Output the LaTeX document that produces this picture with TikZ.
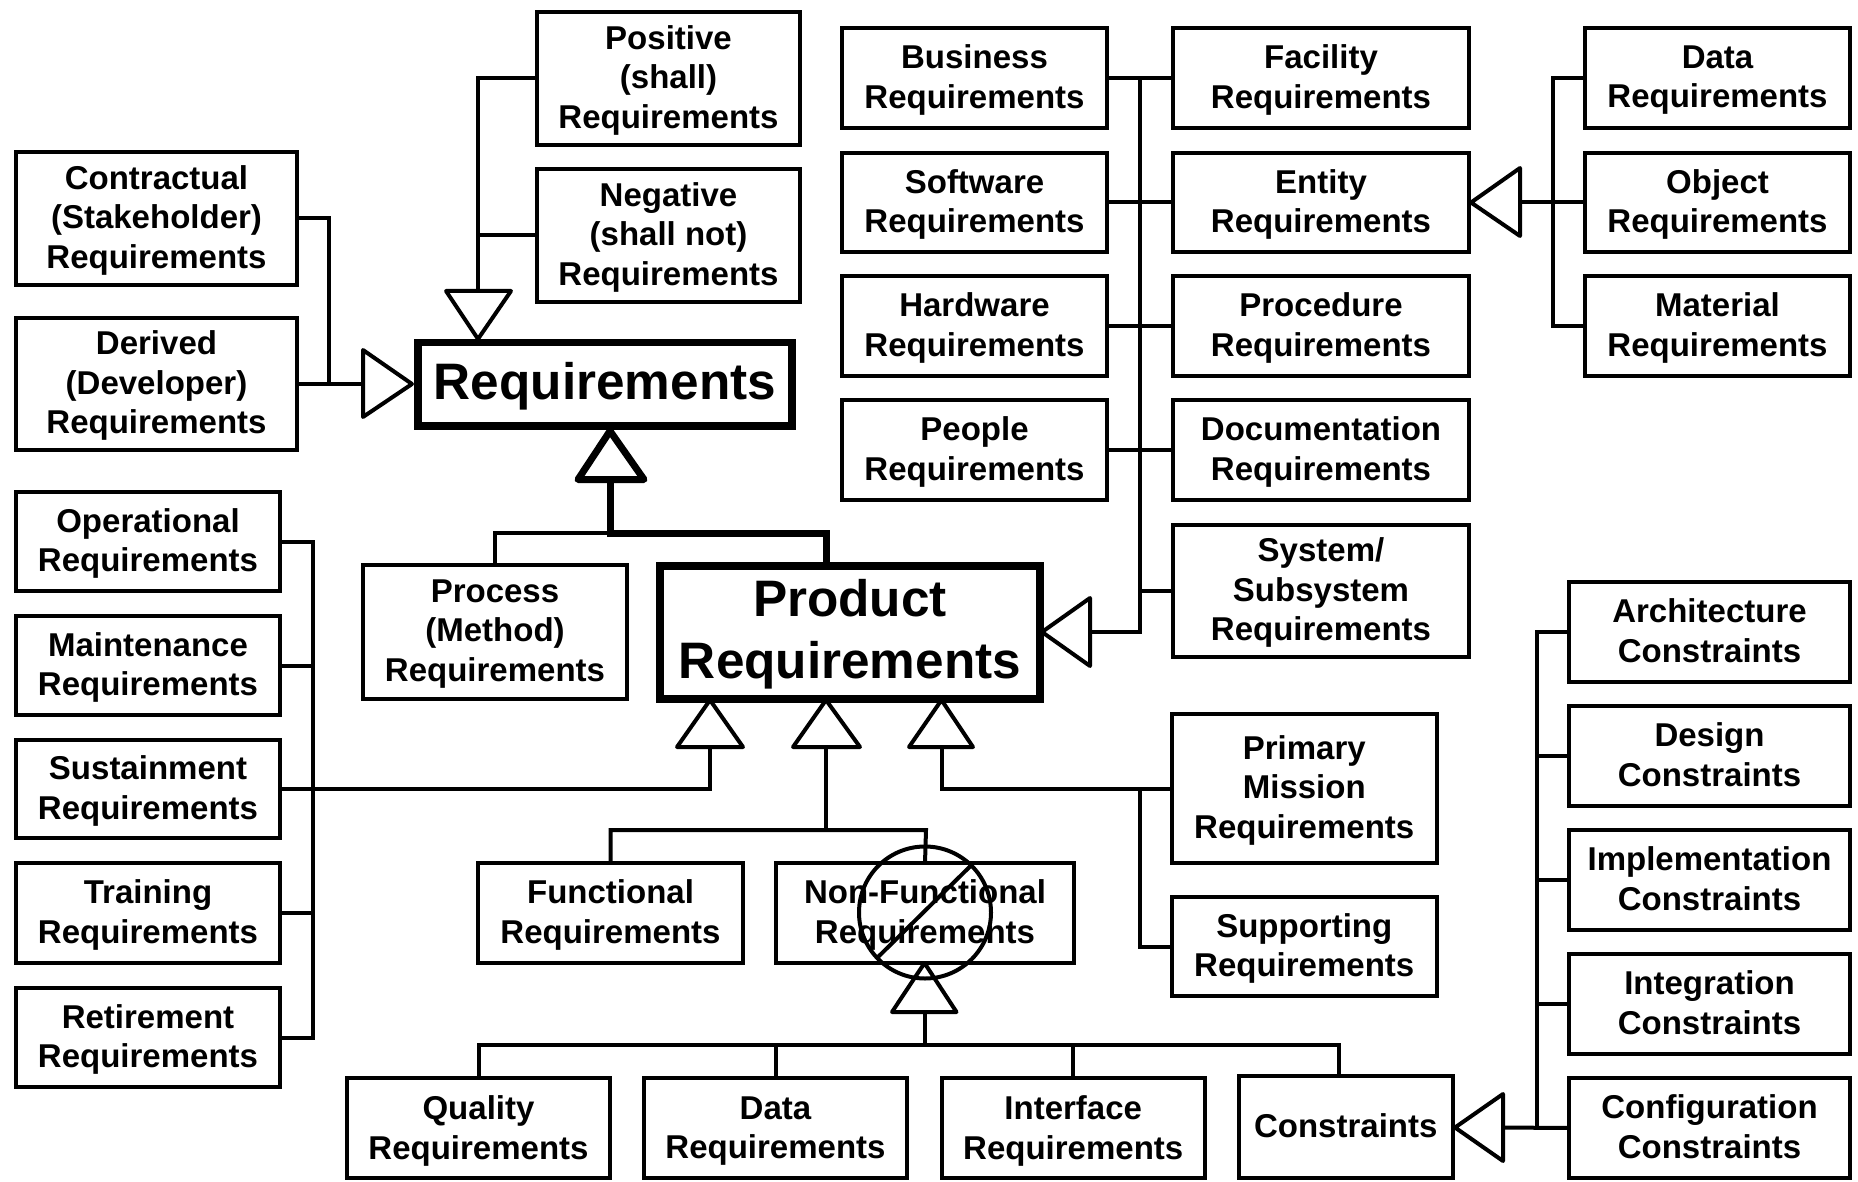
\documentclass[tikz,border=0pt]{standalone}
\usepackage{fontspec}
\setmainfont{Liberation Sans}
\usetikzlibrary{calc}
\newcommand{\tdy}{1.8}
\newcommand{\bx}[7][box]{%
  \pgfmathsetmacro{\bw}{#5-#3}\pgfmathsetmacro{\bh}{#6-#4}%
  \pgfmathsetmacro{\bcx}{(#3+#5)/2}\pgfmathsetmacro{\bcy}{(#4+#6)/2}%
  \node[#1,minimum width=\bw pt,minimum height=\bh pt] (#2) at (\bcx,\bcy) {};
  \node[#1,draw=none,fill=none] (#2-text) at (\bcx,\bcy+\tdy) {#7};}
\newcommand{\tri}[8][tri]{% name apex base1 base2
  \coordinate (#2-apex) at (#3,#4);
  \coordinate (#2-base) at ($(#5,#6)!0.5!(#7,#8)$);
  \draw[#1] (#3,#4) -- (#5,#6) -- (#7,#8) -- cycle;}
\tikzset{
  x=1pt,y=-1pt,
  box/.style={draw=black,line width=4pt,fill=white,rectangle,inner sep=0pt,outer sep=0pt,align=center,
    font=\fontsize{33}{39.4}\selectfont\bfseries,line join=miter},
  bigbox/.style={box,line width=7.5pt,font=\fontsize{51.3}{62}\selectfont\bfseries},
  tri/.style={draw=black,line width=4pt,fill=white,line join=round},
  thicktri/.style={tri,line width=7pt},
  conn/.style={draw=black,line width=4pt,line join=miter},
  thickconn/.style={conn,line width=7pt},
  slash/.style={draw=black,line width=4pt},
}
\begin{document}
\begin{tikzpicture}
\useasboundingbox (0,0) rectangle (1858,1182);
\fill[white] (0,0) rectangle (1858,1182);
% top-left
\bx{pos}{537}{12}{800}{145}{Positive\\(shall)\\Requirements}
\bx{neg}{537}{169}{800}{302}{Negative\\(shall not)\\Requirements}
\bx{con}{16}{152}{297}{285}{Contractual\\(Stakeholder)\\Requirements}
\bx{der}{16}{318}{297}{450}{Derived\\(Developer)\\Requirements}
\bx[bigbox]{req}{418}{342.5}{792}{426}{Requirements}
\bx{proc}{363}{565}{627}{699}{Process\\(Method)\\Requirements}
\bx[bigbox]{prod}{660}{566}{1040}{699}{Product\\Requirements}
% left column
\bx{oper}{16}{492}{280}{591}{Operational\\Requirements}
\bx{main}{16}{616}{280}{715}{Maintenance\\Requirements}
\bx{sust}{16}{740}{280}{838}{Sustainment\\Requirements}
\bx{trai}{16}{863}{280}{963}{Training\\Requirements}
\bx{reti}{16}{988}{280}{1087}{Retirement\\Requirements}
% top middle
\bx{busi}{842}{28}{1107}{128}{Business\\Requirements}
\bx{soft}{842}{153}{1107}{252}{Software\\Requirements}
\bx{hard}{842}{276}{1107}{376}{Hardware\\Requirements}
\bx{peop}{842}{400}{1107}{500}{People\\Requirements}
\bx{faci}{1173}{28}{1469}{128}{Facility\\Requirements}
\bx{enti}{1173}{153}{1469}{252}{Entity\\Requirements}
\bx{pced}{1173}{276}{1469}{376}{Procedure\\Requirements}
\bx{docu}{1173}{400}{1469}{500}{Documentation\\Requirements}
\bx{syst}{1173}{525}{1469}{657}{System/\\Subsystem\\Requirements}
\bx{data}{1585}{28}{1850}{128}{Data\\Requirements}
\bx{obje}{1585}{153}{1850}{252}{Object\\Requirements}
\bx{mate}{1585}{276}{1850}{376}{Material\\Requirements}
% mid
\bx{prim}{1172}{714}{1436.5}{863}{Primary\\Mission\\Requirements}
\bx{supp}{1172}{897}{1436.5}{996}{Supporting\\Requirements}
\bx{func}{478}{863}{743}{963}{Functional\\Requirements}
\bx{nonf}{776}{863}{1074}{963}{Non-Functional\\Requirements}
% bottom
\renewcommand{\tdy}{3}
\bx{qual}{347}{1078}{610}{1178}{Quality\\Requirements}
\bx{dat2}{644}{1078}{907}{1178}{Data\\Requirements}
\bx{intf}{941.5}{1078}{1205}{1178}{Interface\\Requirements}
\renewcommand{\tdy}{-1.2}
\bx{cons}{1238.5}{1076}{1453}{1178}{Constraints}
% right column
\bx{arch}{1569}{582}{1850}{682}{Architecture\\Constraints}
\bx{desi}{1569}{706}{1850}{806}{Design\\Constraints}
\bx{impl}{1569}{830}{1850}{930}{Implementation\\Constraints}
\bx{inte}{1569}{954}{1850}{1054}{Integration\\Constraints}
\bx{conf}{1569}{1078}{1850}{1178}{Configuration\\Constraints}
% junctions
\coordinate (jpn) at (478,78.5);
\coordinate (jcd) at (329,218.5);
\coordinate (jleft) at (313,541.5);
\coordinate (jmid) at (1139.5,78);
\coordinate (jobj) at (1553,78);
\coordinate (jarch) at (1537,632);
\coordinate (jprim) at (1139.5,788.5);
\coordinate (jfn) at (926,830);
\coordinate (jqual) at (925,1045);
\coordinate (jcons) at (1339,1078);
\coordinate (jreq) at (610,533);
% connectors
\draw[conn] (pos.west) -- (jpn) -- (478,300);
\draw[conn] (neg.west) -- (neg.west -| jpn);
\draw[conn] (con.east) -| (der.east -| jcd);
\draw[conn] (der.east) -- (370,384);
\draw[conn] (oper.east) -| (reti.east -| jleft) -- (reti.east);
\draw[conn] (main.east) -- (main.east -| jleft);
\draw[conn] (trai.east) -- (trai.east -| jleft);
\draw[conn] (sust.east) -| (710,745);
\draw[conn] (busi.east) -- (faci.west);
\draw[conn] (soft.east) -- (enti.west);
\draw[conn] (hard.east) -- (pced.west);
\draw[conn] (peop.east) -- (docu.west);
\draw[conn] (jmid) -- (1139.5,632) -- (1088,632);
\draw[conn] (syst.west) -- (syst.west -| jmid);
\draw[conn] (data.west) -| (mate.west -| jobj) -- (mate.west);
\draw[conn] (obje.west) -- (1518,202.5);
\draw[conn] (arch.west) -| (conf.west -| jarch);
\draw[conn] (desi.west) -- (desi.west -| jarch);
\draw[conn] (impl.west) -- (impl.west -| jarch);
\draw[conn] (inte.west) -- (inte.west -| jarch);
\draw[conn] (conf.west) -- (1501,1127.5);
\draw[conn] (prim.west) -- (941.5,788.5) -- (941.5,746);
\draw[conn] (jprim) |- (supp.west);
\draw[conn] (826,745) -- (826,830);
\draw[conn] (func.north) |- (jfn) -- (nonf.north);
\draw[conn] (qual.north) |- (jqual) -| (jcons);
\draw[conn] (925,1010) -- (jqual);
\draw[conn] (dat2.north) -- (dat2.north |- jqual);
\draw[conn] (intf.north) -- (intf.north |- jqual);
\draw[conn] (proc.north) |- (jreq);
\draw[thickconn] (610,478) -- (jreq) -| (826,564);
% triangles
\tri{tpn}{478}{339}{446}{291}{511}{291}
\tri{tcd}{412}{384}{363}{350}{363}{417}
\tri[thicktri]{treq}{610}{431}{578}{479.5}{644}{479.5}
\tri{ts}{710}{700}{677}{747}{743}{747}
\tri{tf}{826}{700}{793}{747}{860}{747}
\tri{tp}{941.5}{700}{909}{747}{973}{747}
\tri{tprod}{1042}{632}{1090}{598}{1090}{666}
\tri{tent}{1471}{202.5}{1520}{168}{1520}{236}
\tri{tcons}{1455}{1127.5}{1503}{1094}{1503}{1161}
\tri{tnf}{924.5}{963}{892}{1012}{956.5}{1012}
% prohibition sign
\node[draw=black,line width=4pt,circle,minimum size=132pt,inner sep=0pt,outer sep=0pt] (nosign) at (925,912.5) {};
\draw[slash] (971.5,865) -- (877,958);
\end{tikzpicture}
\end{document}
